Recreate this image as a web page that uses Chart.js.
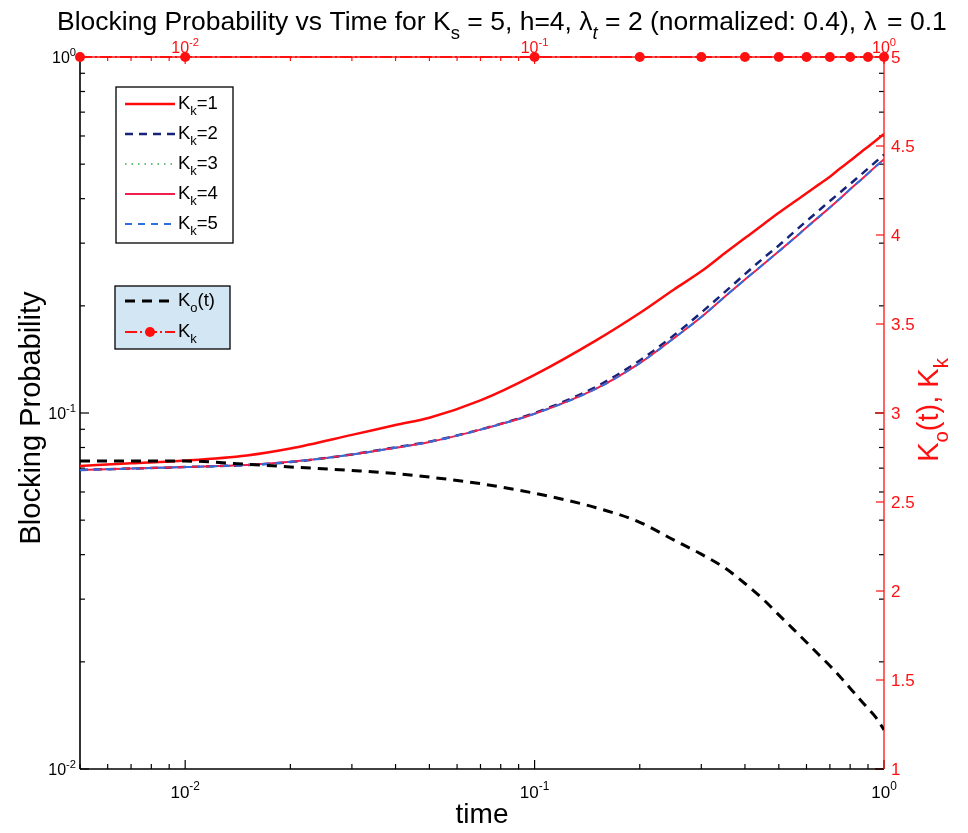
<!DOCTYPE html>
<html><head><meta charset="utf-8">
<script src="https://cdn.jsdelivr.net/npm/chart.js@4.4.0/dist/chart.umd.min.js"></script>
<style>html,body{margin:0;padding:0;background:#fff;}canvas{display:block;}</style>
</head><body>
<canvas id="c" width="968" height="833"></canvas>
<script>
// ---- data ----
const times = [0.005, 0.007, 0.01, 0.015, 0.02, 0.03, 0.04, 0.05, 0.07, 0.1, 0.15, 0.2, 0.25, 0.3, 0.35, 0.4, 0.45, 0.5, 0.55, 0.6, 0.65, 0.7, 0.75, 0.8, 0.85, 0.9, 0.95, 1.0];
const bpKk1 = [0.0710, 0.0722, 0.0735, 0.0760, 0.0795, 0.0868, 0.0925, 0.0970, 0.1085, 0.128, 0.160, 0.191, 0.222, 0.250, 0.281, 0.310, 0.338, 0.365, 0.390, 0.414, 0.438, 0.461, 0.487, 0.511, 0.536, 0.560, 0.584, 0.608];
const bpKk2 = [0.0692, 0.0698, 0.0705, 0.0714, 0.0728, 0.0765, 0.0801, 0.0831, 0.0899, 0.1000, 0.1185, 0.1405, 0.1650, 0.1915, 0.2185, 0.2455, 0.2715, 0.2955, 0.321, 0.346, 0.370, 0.394, 0.417, 0.440, 0.463, 0.486, 0.509, 0.532];
const bpKk3 = [0.0692, 0.0698, 0.0705, 0.0714, 0.0729, 0.0764, 0.0799, 0.0829, 0.0898, 0.0995, 0.117, 0.138, 0.162, 0.186, 0.212, 0.237, 0.261, 0.2845, 0.308, 0.332, 0.355, 0.378, 0.401, 0.425, 0.448, 0.471, 0.494, 0.516];
const bpKk4 = [0.0692, 0.0698, 0.0705, 0.0714, 0.0729, 0.0764, 0.0799, 0.0829, 0.0898, 0.0995, 0.117, 0.138, 0.162, 0.186, 0.212, 0.237, 0.261, 0.2845, 0.308, 0.332, 0.355, 0.378, 0.401, 0.425, 0.448, 0.471, 0.494, 0.516];
const bpKk5 = [0.0692, 0.0698, 0.0705, 0.0714, 0.0729, 0.0764, 0.0799, 0.0829, 0.0898, 0.0995, 0.117, 0.138, 0.162, 0.186, 0.212, 0.237, 0.261, 0.2845, 0.308, 0.332, 0.355, 0.378, 0.401, 0.425, 0.448, 0.471, 0.494, 0.516];
const koT  = [2.73, 2.73, 2.73, 2.712, 2.697, 2.677, 2.66, 2.64, 2.603, 2.549, 2.468, 2.386, 2.287, 2.207, 2.13, 2.042, 1.955, 1.866, 1.786, 1.712, 1.643, 1.58, 1.517, 1.454, 1.395, 1.34, 1.287, 1.22];
const kkTimes  = [0.005, 0.01, 0.1, 0.2, 0.3, 0.4, 0.5, 0.6, 0.7, 0.8, 0.9, 1.0];
const kkValues = [5, 5, 5, 5, 5, 5, 5, 5, 5, 5, 5, 5];
// ticks
const logMajorValues = [0.01, 0.1, 1];
const logMajorExps   = ['-2', '-1', '0'];
const rightTicks     = [1, 1.5, 2, 2.5, 3, 3.5, 4, 4.5, 5];
const rightTickLabels = ['1', '1.5', '2', '2.5', '3', '3.5', '4', '4.5', '5'];

const FONT = '"Liberation Sans", Arial, Helvetica, sans-serif';
const RED = '#ff1010';

function segFont(s, size) {
  const sz = (s.sub || s.sup) ? size * 0.7 : size;
  return (s.italic ? 'italic ' : '') + sz + 'px ' + FONT;
}
function richWidth(ctx, segs, size) {
  let w = 0;
  for (const s of segs) { ctx.font = segFont(s, size); w += ctx.measureText(s.t).width; }
  return w;
}
function drawRich(ctx, segs, x, y, size, align, color) {
  const w = richWidth(ctx, segs, size);
  let cx = align === 'center' ? x - w / 2 : (align === 'right' ? x - w : x);
  ctx.fillStyle = color;
  ctx.textAlign = 'left';
  ctx.textBaseline = 'alphabetic';
  for (const s of segs) {
    ctx.font = segFont(s, size);
    const dy = s.sub ? size * 0.35 : (s.sup ? -size * 0.45 : 0);
    ctx.fillText(s.t, cx, y + dy);
    cx += ctx.measureText(s.t).width;
  }
}
function pow10(e) { return [{t: '10'}, {t: e, sup: true}]; }

function logTicks(min, max) {
  const out = [];
  for (let e = -3; e <= 0; e++) {
    for (let k = 1; k <= 9; k++) {
      const v = k * Math.pow(10, e);
      if (v >= min * 0.999 && v <= max * 1.001) out.push({v: v, major: k === 1});
    }
  }
  return out;
}

function line(ctx, x1, y1, x2, y2) { ctx.beginPath(); ctx.moveTo(x1, y1); ctx.lineTo(x2, y2); ctx.stroke(); }

const axesPlugin = {
  id: 'matlabAxes',
  beforeDatasetsDraw(chart) {
    const {ctx, chartArea: a, scales} = chart;
    const sx = scales.x, sy = scales.y, sy2 = scales.y2;
    ctx.save();
    ctx.setLineDash([]);
    ctx.strokeStyle = '#000'; ctx.lineWidth = 1.2;
    for (const t of logTicks(sy.min, sy.max)) {
      const py = sy.getPixelForValue(t.v);
      const len = t.major ? 9 : 5;
      line(ctx, a.left, py, a.left + len, py);
      line(ctx, a.right, py, a.right - len, py);
    }
    for (const t of logTicks(sx.min, sx.max)) {
      const px = sx.getPixelForValue(t.v);
      const len = t.major ? 9 : 5;
      line(ctx, px, a.bottom, px, a.bottom - len);
    }
    ctx.strokeStyle = RED;
    for (const t of logTicks(sx.min, sx.max)) {
      const px = sx.getPixelForValue(t.v);
      const len = t.major ? 7 : 4;
      line(ctx, px, a.top, px, a.top + len);
    }
    for (const v of rightTicks) {
      const py = sy2.getPixelForValue(v);
      line(ctx, a.right, py, a.right - 8, py);
    }
    ctx.strokeStyle = '#000'; ctx.lineWidth = 1.6;
    line(ctx, a.left, a.top, a.left, a.bottom);
    line(ctx, a.left, a.bottom, a.right, a.bottom);
    ctx.strokeStyle = RED; ctx.lineWidth = 1.3;
    line(ctx, a.right, a.top, a.right, a.bottom);
    line(ctx, a.left, a.top, a.right, a.top);
    ctx.restore();
  },
  afterDraw(chart) {
    const {ctx, chartArea: a, scales} = chart;
    const sx = scales.x, sy = scales.y, sy2 = scales.y2;
    ctx.save();
    ctx.setLineDash([]);
    logMajorValues.forEach((v, i) => {
      drawRich(ctx, pow10(logMajorExps[i]), a.left - 4, sy.getPixelForValue(v) + 6, 16, 'right', '#000');
    });
    logMajorValues.forEach((v, i) => {
      drawRich(ctx, pow10(logMajorExps[i]), sx.getPixelForValue(v), a.bottom + 29, 17, 'center', '#000');
    });
    logMajorValues.forEach((v, i) => {
      drawRich(ctx, pow10(logMajorExps[i]), sx.getPixelForValue(v), a.top - 4, 16, 'center', RED);
    });
    rightTicks.forEach((v, i) => {
      drawRich(ctx, [{t: rightTickLabels[i]}], a.right + 7, sy2.getPixelForValue(v) + 6, 17, 'left', RED);
    });
    drawRich(ctx, [{t: 'time'}], (a.left + a.right) / 2, 823, 28, 'center', '#000');
    ctx.save();
    ctx.translate(40, 418); ctx.rotate(-Math.PI / 2);
    drawRich(ctx, [{t: 'Blocking Probability'}], 0, 0, 29, 'center', '#000');
    ctx.restore();
    ctx.save();
    ctx.translate(938, 410); ctx.rotate(-Math.PI / 2);
    drawRich(ctx, [{t: 'K'}, {t: 'o', sub: true}, {t: '(t), K'}, {t: 'k', sub: true}], 0, 0, 29, 'center', RED);
    ctx.restore();
    drawRich(ctx, [
      {t: 'Blocking Probability vs Time for K'}, {t: 's', sub: true},
      {t: ' = 5, h=4, \u03bb'}, {t: 't', sub: true, italic: true},
      {t: ' = 2 (normalized: 0.4), \u03bb'}, {t: '  ', sub: true}, {t: '= 0.1'}
    ], 57, 30, 26.5, 'left', '#000');

    const L1 = {x: 116, y: 87, w: 117, h: 156};
    ctx.fillStyle = '#fff'; ctx.fillRect(L1.x, L1.y, L1.w, L1.h);
    ctx.strokeStyle = '#000'; ctx.lineWidth = 1.3; ctx.strokeRect(L1.x, L1.y, L1.w, L1.h);
    const ds = chart.data.datasets;
    [0, 1, 2, 3, 4].forEach((di, i) => {
      const d = ds[di];
      const ry = 104 + i * 30;
      ctx.strokeStyle = d.borderColor; ctx.lineWidth = d.borderWidth;
      ctx.setLineDash(d.borderDash || []);
      line(ctx, 125, ry, 175, ry);
      ctx.setLineDash([]);
      drawRich(ctx, [{t: 'K'}, {t: 'k', sub: true}, {t: '=' + (i + 1)}], 178, ry + 5, 18.5, 'left', '#000');
    });
    const L2 = {x: 115, y: 286, w: 115, h: 63};
    ctx.fillStyle = '#d3e6f3'; ctx.fillRect(L2.x, L2.y, L2.w, L2.h);
    ctx.strokeStyle = '#000'; ctx.lineWidth = 1.3; ctx.strokeRect(L2.x, L2.y, L2.w, L2.h);
    const dK = ds[5], dM = ds[6];
    ctx.strokeStyle = dK.borderColor; ctx.lineWidth = dK.borderWidth; ctx.setLineDash(dK.borderDash);
    line(ctx, 125, 301, 175, 301);
    ctx.setLineDash([]);
    drawRich(ctx, [{t: 'K'}, {t: 'o', sub: true}, {t: '(t)'}], 178, 306, 18.5, 'left', '#000');
    ctx.strokeStyle = dM.borderColor; ctx.lineWidth = dM.borderWidth; ctx.setLineDash(dM.borderDash);
    line(ctx, 125, 332, 175, 332);
    ctx.setLineDash([]);
    ctx.fillStyle = dM.backgroundColor;
    ctx.beginPath(); ctx.arc(150, 332, 5, 0, Math.PI * 2); ctx.fill();
    drawRich(ctx, [{t: 'K'}, {t: 'k', sub: true}], 178, 337, 18.5, 'left', '#000');
    ctx.restore();
  }
};

const pts = (xs, ys) => xs.map((t, i) => ({x: t, y: ys[i]}));

new Chart(document.getElementById('c'), {
  type: 'line',
  data: {
    datasets: [
      {label: 'Kk=1', data: pts(times, bpKk1), yAxisID: 'y', borderColor: '#ff0a0a', borderWidth: 2.5, pointRadius: 0, fill: false, cubicInterpolationMode: 'monotone', order: 6},
      {label: 'Kk=2', data: pts(times, bpKk2), yAxisID: 'y', borderColor: '#15237a', borderWidth: 2.5, borderDash: [8, 6], pointRadius: 0, fill: false, cubicInterpolationMode: 'monotone', order: 5},
      {label: 'Kk=3', data: pts(times, bpKk3), yAxisID: 'y', borderColor: '#3aa84a', borderWidth: 1.5, borderDash: [1.5, 5], pointRadius: 0, fill: false, cubicInterpolationMode: 'monotone', order: 4},
      {label: 'Kk=4', data: pts(times, bpKk4), yAxisID: 'y', borderColor: '#ee1f4f', borderWidth: 2, pointRadius: 0, fill: false, cubicInterpolationMode: 'monotone', order: 3},
      {label: 'Kk=5', data: pts(times, bpKk5), yAxisID: 'y', borderColor: '#2f6fdc', borderWidth: 2, borderDash: [7, 6], pointRadius: 0, fill: false, cubicInterpolationMode: 'monotone', order: 2},
      {label: 'Ko(t)', data: pts(times, koT), yAxisID: 'y2', borderColor: '#000000', borderWidth: 3, borderDash: [10, 7], pointRadius: 0, fill: false, cubicInterpolationMode: 'monotone', order: 1},
      {label: 'Kk', data: pts(kkTimes, kkValues), yAxisID: 'y2', borderColor: '#ff1010', backgroundColor: '#ff1010', borderWidth: 2, borderDash: [12, 3, 2, 3], pointRadius: 5, pointHoverRadius: 5, pointBorderWidth: 0, pointStyle: 'circle', fill: false, clip: false, order: 0}
    ]
  },
  options: {
    responsive: false,
    animation: false,
    devicePixelRatio: 1,
    layout: {padding: {left: 80, right: 84, top: 57, bottom: 64}},
    plugins: {legend: {display: false}, tooltip: {enabled: false}, title: {display: false}},
    scales: {
      x: {type: 'logarithmic', min: 0.005, max: 1, display: false},
      y: {type: 'logarithmic', min: 0.01, max: 1, display: false},
      y2: {type: 'linear', min: 1, max: 5, display: false, position: 'right'}
    }
  },
  plugins: [axesPlugin]
});
</script>
</body></html>
